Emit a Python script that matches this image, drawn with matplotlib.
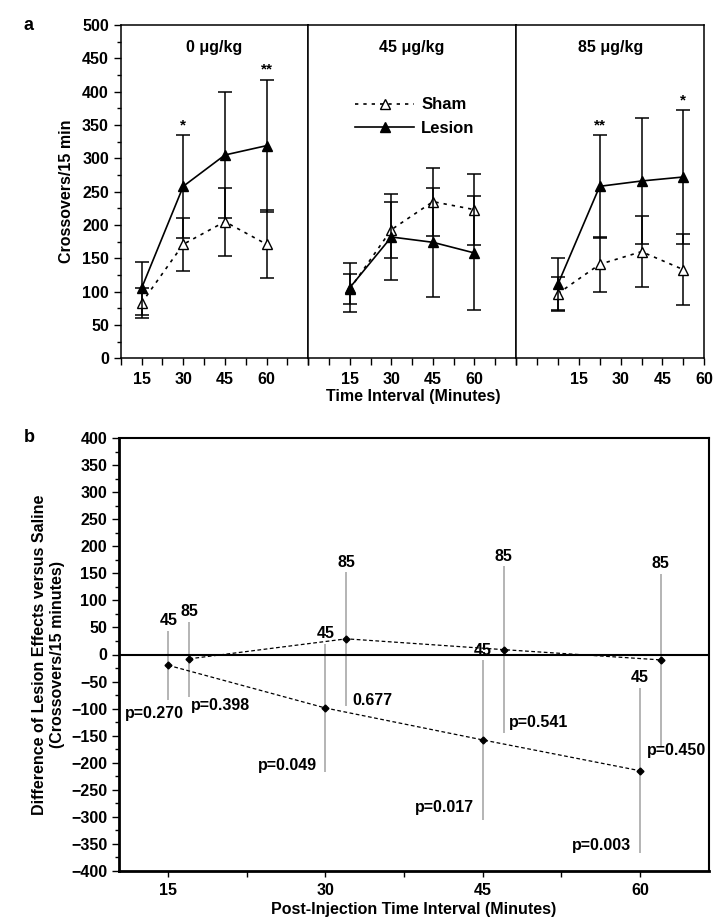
import matplotlib
matplotlib.use("Agg")
import matplotlib.pyplot as plt
from matplotlib.ticker import MultipleLocator, FixedLocator
from matplotlib.lines import Line2D

plt.rcParams["font.family"] = ["Liberation Sans", "DejaVu Sans"]
plt.rcParams["font.weight"] = "bold"
plt.rcParams["axes.labelweight"] = "bold"
plt.rcParams["font.size"] = 11.5

# ---- panel a data ----
times = [15, 30, 45, 60]
times_85 = [7.5, 22.5, 37.5, 52.5]  # the 85 ug/kg panel is drawn shifted in the source
doses = ["0 \u03bcg/kg", "45 \u03bcg/kg", "85 \u03bcg/kg"]

sham = [
    [83, 171, 205, 171],
    [104, 193, 235, 223],
    [97, 141, 160, 133],
]
sham_err = [
    [22, 40, 51, 51],
    [23, 42, 51, 53],
    [25, 41, 53, 53],
]
lesion = [
    [105, 258, 305, 319],
    [106, 182, 174, 158],
    [111, 258, 266, 272],
]
lesion_err = [
    [40, 77, 95, 99],
    [37, 65, 82, 85],
    [40, 77, 95, 100],
]
stars = [
    {1: "*", 3: "**"},
    {},
    {1: "**", 3: "*"},
]

# ---- panel b data ----
b_x45 = [15, 30, 45, 60]
b_y45 = [-20, -99, -158, -215]
b_hi45 = [44, 20, -11, -62]
b_lo45 = [-85, -218, -306, -368]
p45 = ["p=0.270", "p=0.049", "p=0.017", "p=0.003"]

b_x85 = [17, 32, 47, 62]
b_y85 = [-8, 29, 9, -10]
b_hi85 = [60, 152, 163, 149]
b_lo85 = [-78, -95, -146, -170]
p85 = ["p=0.398", "0.677", "p=0.541", "p=0.450"]

# label placement (offset points, ha, va) next to the lower end of each grey line
p45_place = [((-10, -4), "center", "top"), ((-6, 5), "right", "center"),
             ((-6, 9), "right", "center"), ((-6, 6), "right", "center")]
p85_place = [((1, -1), "left", "top"), ((4, 4), "left", "center"),
             ((4, 8), "left", "center"), ((-10, -3), "left", "center")]

W, H = 728, 924
fig = plt.figure(figsize=(W / 100, H / 100), dpi=100)


def fx(px):
    return px / W


def fy(py):
    return 1 - py / H


a_top, a_bot = 25, 358.3
edges = [120.7, 308.3, 516.0, 704.3]
xlims = [(7.5, 75), (0, 75), (-7.5, 60)]

axes_a = []
for i in range(3):
    ax = fig.add_axes([fx(edges[i]), fy(a_bot), fx(edges[i + 1] - edges[i]), (a_bot - a_top) / H])
    axes_a.append(ax)
    xs = times_85 if i == 2 else times
    ax.errorbar(xs, sham[i], yerr=sham_err[i], color="black", lw=1.2,
                ls=(0, (2, 3)), marker="^", mfc="white", mec="black", ms=7,
                capsize=5, elinewidth=1.1, capthick=1.1, zorder=3)
    ax.errorbar(xs, lesion[i], yerr=lesion_err[i], color="black", lw=1.2,
                ls="-", marker="^", mfc="black", mec="black", ms=7,
                capsize=5, elinewidth=1.1, capthick=1.1, zorder=4)
    for k, s in stars[i].items():
        ax.annotate(s, (xs[k], lesion[i][k] + lesion_err[i][k]), xytext=(0, 2),
                    textcoords="offset points", ha="center", va="bottom", fontsize=11)
    ax.set_xlim(*xlims[i])
    ax.set_ylim(0, 500)
    ax.set_xticks(times)
    ax.set_xticklabels([str(t) for t in times])
    lo, hi = xlims[i]
    ax.xaxis.set_minor_locator(FixedLocator([lo + 7.5 * k for k in range(int((hi - lo) / 7.5) + 1)]))
    ax.tick_params(axis="x", which="both", direction="out", length=5, width=1, pad=5)
    ax.text(0.5, 0.955, doses[i], transform=ax.transAxes, ha="center", va="top")
    for sp in ax.spines.values():
        sp.set_linewidth(1.1)
    if i == 0:
        ax.yaxis.set_major_locator(MultipleLocator(50))
        ax.yaxis.set_minor_locator(MultipleLocator(25))
        ax.tick_params(axis="y", which="major", direction="out", length=5, width=1)
        ax.tick_params(axis="y", which="minor", direction="out", length=3, width=1)
        ax.set_ylabel("Crossovers/15 min", labelpad=6)
    else:
        ax.tick_params(axis="y", which="both", left=False, labelleft=False)

handles = [
    Line2D([], [], color="black", lw=1.2, ls=(0, (2, 3)), marker="^", mfc="white", mec="black", ms=7),
    Line2D([], [], color="black", lw=1.2, ls="-", marker="^", mfc="black", mec="black", ms=7),
]
axes_a[1].legend(handles, ["Sham", "Lesion"], loc="upper left", frameon=False,
                 bbox_to_anchor=(fx(347), fy(89)), bbox_transform=fig.transFigure,
                 handlelength=3.5, handletextpad=0.45, labelspacing=0.5, borderpad=0,
                 prop={"weight": "bold", "size": 12})
fig.text(fx(413), fy(396), "Time Interval (Minutes)", ha="center", va="center")
fig.text(fx(29), fy(26), "a", ha="center", va="center", fontsize=13)

# ---- panel b ----
b_top, b_bot, b_left, b_right = 438.3, 870.7, 119, 709
axb = fig.add_axes([fx(b_left), fy(b_bot), fx(b_right - b_left), (b_bot - b_top) / H])
axb.set_xlim(10.3, 66.6)
axb.set_ylim(-400, 400)
axb.axhline(0, color="black", lw=1.5, zorder=2)

axb.vlines(b_x45, b_lo45, b_hi45, color="#a8a8a8", lw=1.2, zorder=1)
axb.vlines(b_x85, b_lo85, b_hi85, color="#a8a8a8", lw=1.2, zorder=1)
axb.plot(b_x45, b_y45, color="black", lw=0.9, ls=(0, (3, 2)), marker="D", ms=3.5, zorder=3)
axb.plot(b_x85, b_y85, color="black", lw=0.9, ls=(0, (3, 2)), marker="D", ms=3.5, zorder=3)

for x, hi in zip(b_x45, b_hi45):
    axb.annotate("45", (x, hi), xytext=(0, 2), textcoords="offset points",
                 ha="center", va="bottom")
for x, hi in zip(b_x85, b_hi85):
    axb.annotate("85", (x, hi), xytext=(0, 2), textcoords="offset points",
                 ha="center", va="bottom")
for x, lo, s, (off, ha, va) in zip(b_x45, b_lo45, p45, p45_place):
    axb.annotate(s, (x, lo), xytext=off, textcoords="offset points", ha=ha, va=va)
for x, lo, s, (off, ha, va) in zip(b_x85, b_lo85, p85, p85_place):
    axb.annotate(s, (x, lo), xytext=off, textcoords="offset points", ha=ha, va=va)

axb.set_xticks([15, 30, 45, 60])
axb.xaxis.set_minor_locator(FixedLocator([22.5, 37.5, 52.5]))
axb.tick_params(axis="x", which="both", direction="out", length=4, width=1, pad=5)
axb.yaxis.set_major_locator(MultipleLocator(50))
axb.yaxis.set_minor_locator(MultipleLocator(25))
axb.tick_params(axis="y", which="major", direction="out", length=5, width=1)
axb.tick_params(axis="y", which="minor", direction="out", length=3, width=1)
axb.spines["left"].set_linewidth(2)
axb.spines["bottom"].set_linewidth(2)
axb.spines["top"].set_linewidth(1.5)
axb.spines["right"].set_linewidth(1.5)
axb.set_ylabel("Difference of Lesion Effects versus Saline\n(Crossovers/15 minutes)",
               labelpad=4, linespacing=1.25)
axb.set_xlabel("Post-Injection Time Interval (Minutes)", labelpad=3)
fig.text(fx(29), fy(438), "b", ha="center", va="center", fontsize=13)

fig.savefig("out.png", dpi=100)
